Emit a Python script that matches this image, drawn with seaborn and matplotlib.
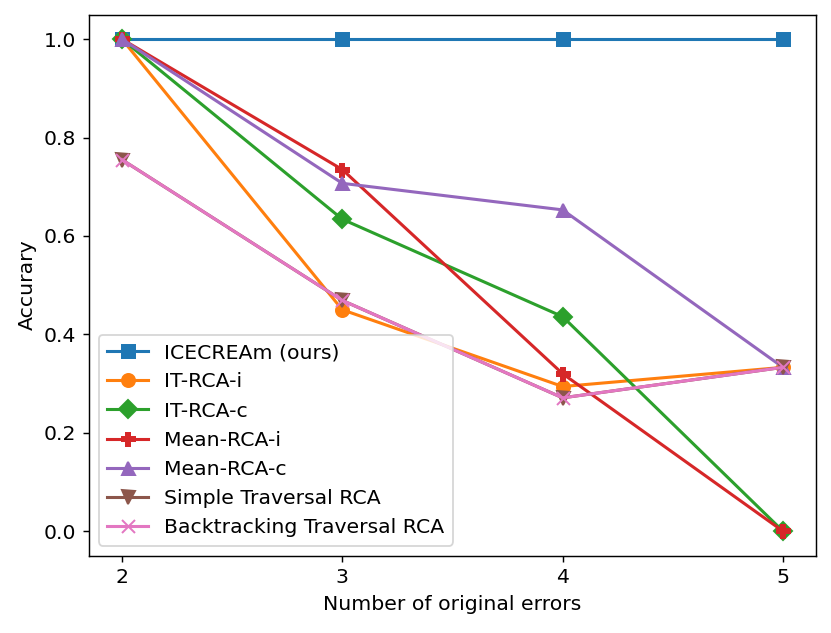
import pandas as pd
import numpy as np
import matplotlib
matplotlib.use("Agg")
import matplotlib.pyplot as plt
import seaborn as sns

# =========================
# Data
# =========================
errors = [2, 3, 4, 5]

icecream = [1.0, 1.0, 1.0, 1.0]
it_rca_i = [1.0, 0.45, 0.294, 0.333]
it_rca_c = [1.0, 0.634, 0.436, 0.0]
mean_rca_i = [1.0, 0.735, 0.32, 0.0]
mean_rca_c = [1.0, 0.707, 0.653, 0.333]
simple_trav = [0.755, 0.469, 0.271, 0.333]
backtrack_trav = [0.755, 0.469, 0.271, 0.333]

names = ["ICECREAm (ours)", "IT-RCA-i", "IT-RCA-c", "Mean-RCA-i",
         "Mean-RCA-c", "Simple Traversal RCA", "Backtracking Traversal RCA"]
series = [icecream, it_rca_i, it_rca_c, mean_rca_i, mean_rca_c,
          simple_trav, backtrack_trav]
markers = ["s", "o", "D", "P", "^", "v", "x"]

# =========================
# Plot
# =========================
plt.rcParams["font.size"] = 11.3

fig, ax = plt.subplots(figsize=(831 / 130, 633 / 130), dpi=130)
colors = sns.color_palette("tab10")

for i, (vals, m) in enumerate(zip(series, markers)):
    sns.lineplot(x=errors, y=vals, marker=m, color=colors[i],
                 linewidth=1.7, markersize=7.2, markeredgecolor=colors[i],
                 markeredgewidth=1.1, legend=False, ax=ax)

ax.set_xticks(errors)
ax.set_xlabel("Number of original errors")
ax.set_ylabel("Accurary")
ax.legend(ax.get_lines(), names, loc="lower left")

plt.subplots_adjust(left=0.107, right=0.982, top=0.977, bottom=0.122)
plt.savefig("out.png", dpi=130)
